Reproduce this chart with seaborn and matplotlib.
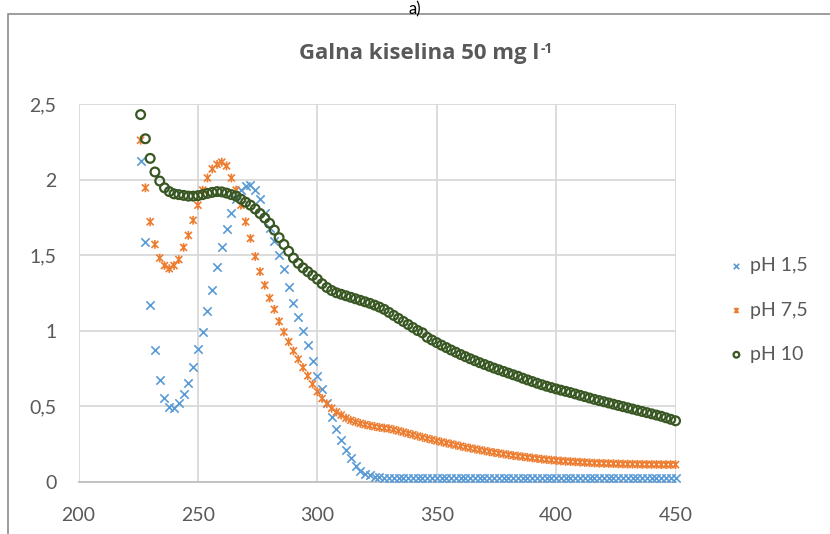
import pandas as pd
import matplotlib
matplotlib.use("Agg")
import matplotlib.pyplot as plt
from matplotlib.patches import Rectangle
from matplotlib.path import Path
from matplotlib.ticker import FixedLocator, FixedFormatter
import seaborn as sns

# valna duljina (nm), korak 2 nm
wavelength = list(range(226, 451, 2))

ph_1_5 = [2.12, 1.585, 1.17, 0.87, 0.67, 0.55, 0.495, 0.49, 0.52, 0.58,
          0.655, 0.76, 0.875, 0.99, 1.13, 1.27, 1.42, 1.555, 1.67, 1.78,
          1.87, 1.93, 1.955, 1.965, 1.93, 1.87, 1.78, 1.68, 1.59, 1.50,
          1.41, 1.29, 1.18, 1.09, 1.00, 0.905, 0.80, 0.70, 0.61, 0.52,
          0.43, 0.345, 0.275, 0.21, 0.155, 0.105, 0.072, 0.052, 0.04, 0.032,
          0.027, 0.024, 0.022, 0.021, 0.02, 0.02, 0.02, 0.02, 0.02, 0.02,
          0.02, 0.02, 0.02, 0.02, 0.02, 0.02, 0.02, 0.02, 0.02, 0.02,
          0.02, 0.02, 0.02, 0.02, 0.02, 0.02, 0.02, 0.02, 0.02, 0.02,
          0.02, 0.02, 0.02, 0.02, 0.02, 0.02, 0.02, 0.02, 0.02, 0.02,
          0.02, 0.02, 0.02, 0.02, 0.02, 0.02, 0.02, 0.02, 0.02, 0.02,
          0.02, 0.02, 0.02, 0.02, 0.02, 0.02, 0.02, 0.02, 0.02, 0.02,
          0.02, 0.02, 0.02]

ph_7_5 = [2.26, 1.945, 1.72, 1.57, 1.48, 1.43, 1.41, 1.43, 1.47, 1.55,
          1.63, 1.73, 1.83, 1.93, 2.01, 2.07, 2.10, 2.115, 2.09, 2.01,
          1.93, 1.83, 1.72, 1.61, 1.49, 1.39, 1.30, 1.215, 1.14, 1.06,
          0.99, 0.925, 0.865, 0.81, 0.755, 0.70, 0.645, 0.595, 0.55, 0.515,
          0.485, 0.46, 0.44, 0.42, 0.405, 0.395, 0.385, 0.377, 0.37, 0.364,
          0.358, 0.354, 0.35, 0.343, 0.335, 0.327, 0.318, 0.31, 0.301, 0.293,
          0.285, 0.277, 0.269, 0.262, 0.255, 0.248, 0.241, 0.234, 0.227, 0.221,
          0.215, 0.209, 0.203, 0.197, 0.192, 0.187, 0.182, 0.177, 0.172, 0.168,
          0.164, 0.16, 0.156, 0.152, 0.148, 0.145, 0.142, 0.139, 0.136, 0.134,
          0.132, 0.13, 0.128, 0.126, 0.124, 0.122, 0.121, 0.12, 0.119, 0.118,
          0.117, 0.116, 0.115, 0.115, 0.114, 0.114, 0.113, 0.113, 0.113, 0.112,
          0.112, 0.112, 0.112]

ph_10 = [2.43, 2.27, 2.14, 2.05, 1.99, 1.945, 1.92, 1.905, 1.90, 1.895,
         1.89, 1.89, 1.893, 1.90, 1.908, 1.915, 1.92, 1.918, 1.91, 1.90,
         1.89, 1.87, 1.85, 1.83, 1.805, 1.775, 1.745, 1.71, 1.665, 1.615,
         1.57, 1.525, 1.48, 1.445, 1.415, 1.39, 1.365, 1.34, 1.31, 1.285,
         1.265, 1.25, 1.24, 1.23, 1.22, 1.21, 1.20, 1.19, 1.18, 1.168,
         1.155, 1.14, 1.12, 1.10, 1.08, 1.06, 1.04, 1.02, 1.00, 0.985,
         0.955, 0.937, 0.92, 0.903, 0.887, 0.871, 0.856, 0.841, 0.827, 0.813,
         0.80, 0.787, 0.775, 0.763, 0.751, 0.74, 0.729, 0.718, 0.707, 0.697,
         0.684, 0.673, 0.662, 0.651, 0.641, 0.631, 0.622, 0.613, 0.605, 0.597,
         0.589, 0.58, 0.571, 0.562, 0.553, 0.544, 0.536, 0.528, 0.52, 0.512,
         0.504, 0.496, 0.488, 0.48, 0.472, 0.464, 0.456, 0.448, 0.44, 0.432,
         0.422, 0.412, 0.402]

series_labels = ["pH 1,5", "pH 7,5", "pH 10"]
x_ticks = [200, 250, 300, 350, 400, 450]
y_ticks = [0, 0.5, 1, 1.5, 2, 2.5]
y_tick_labels = ["0", "0,5", "1", "1,5", "2", "2,5"]

df = pd.DataFrame({"nm": wavelength, "pH 1,5": ph_1_5, "pH 7,5": ph_7_5, "pH 10": ph_10})

sns.set_style("white")
plt.rcParams["font.family"] = ["Lato", "DejaVu Sans"]

text_col = "#595959"
blue = "#5B9BD5"
orange = "#ED7D31"
green = "#385723"

# Excel "star" marker: x + vertical line
star = Path([(-1, -1), (1, 1), (-1, 1), (1, -1), (0, -1.25), (0, 1.25)],
            [Path.MOVETO, Path.LINETO] * 3)

fig = plt.figure(figsize=(8.3, 5.34), dpi=100)
ax = fig.add_axes([0.0946, 0.0983, 0.7193, 0.7069])

sns.scatterplot(data=df, x="nm", y="pH 1,5", marker="x", s=36, color=blue,
                linewidth=1.2, label=series_labels[0], ax=ax, clip_on=False, zorder=3)
sns.scatterplot(data=df, x="nm", y="pH 7,5", marker=star, s=40, color=orange,
                edgecolor=orange, facecolor="none", linewidth=1.2,
                label=series_labels[1], ax=ax, clip_on=False, zorder=3)
sns.scatterplot(data=df, x="nm", y="pH 10", marker="o", s=40, color=green,
                edgecolor=green, facecolor="none", linewidth=1.6,
                label=series_labels[2], ax=ax, clip_on=False, zorder=4)

ax.set_xlim(200, 450)
ax.set_ylim(0, 2.5)
ax.xaxis.set_major_locator(FixedLocator(x_ticks))
ax.yaxis.set_major_locator(FixedLocator(y_ticks))
ax.yaxis.set_major_formatter(FixedFormatter(y_tick_labels))
ax.set_xlabel("")
ax.set_ylabel("")
ax.grid(True, color="#d9d9d9", lw=1.3)
ax.set_axisbelow(True)
for s in ["top", "right", "left"]:
    ax.spines[s].set_visible(False)
ax.spines["bottom"].set_color("#bfbfbf")
ax.spines["bottom"].set_linewidth(1.3)
ax.tick_params(axis="both", length=0, labelsize=14, labelcolor=text_col)
ax.tick_params(axis="y", pad=16)
ax.tick_params(axis="x", pad=18)

leg = ax.legend(loc="center left", bbox_to_anchor=(1.058, 0.454), frameon=False,
                fontsize=14, labelcolor=text_col, labelspacing=1.4,
                handletextpad=0.25, handlelength=0.9, markerscale=0.65)

title_font = ["Open Sans", "DejaVu Sans"]
title = fig.text(0.505, 0.90, "Galna kiselina 50 mg l", ha="center", va="center",
                 fontsize=16, fontweight="bold", color=text_col, family=title_font)
renderer = fig.canvas.get_renderer()
bb = title.get_window_extent(renderer)
W, H = fig.get_size_inches() * fig.dpi
fig.text((bb.x1 + 1.5) / W, (bb.y0 + bb.height * 0.72) / H, "-1",
         ha="left", va="center", fontsize=10, fontweight="bold",
         color=text_col, family=title_font)

fig.text(0.5, 0.997, "a)", ha="center", va="top", fontsize=12, color="black")

# okvir grafikona
fig.patches.append(Rectangle((8 / 830, -0.1), 1.2, 1 - 14 / 534 + 0.1,
                             transform=fig.transFigure, fill=False,
                             edgecolor="#8c8c8c", lw=1.2))

plt.savefig("out.png", dpi=100)
plt.close()
